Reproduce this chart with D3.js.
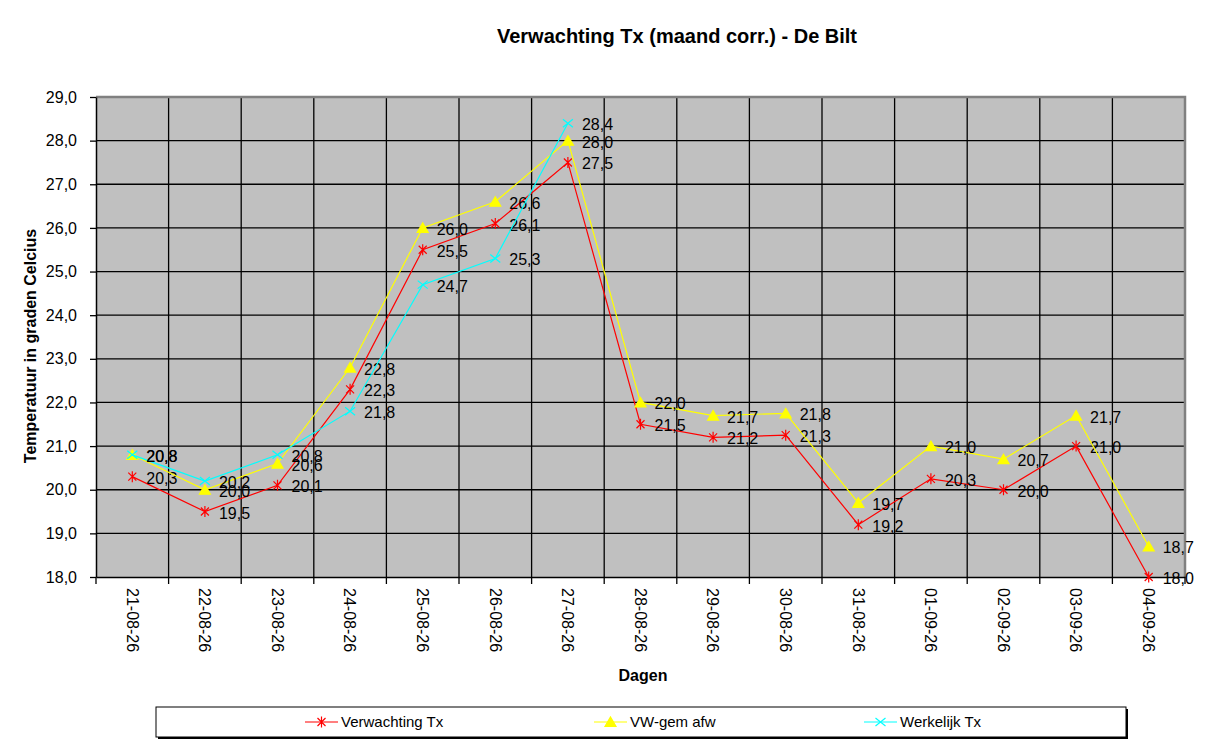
<!DOCTYPE html>
<html>
<head>
<meta charset="utf-8">
<script src="https://cdn.jsdelivr.net/npm/d3@7"></script>
<style>
  body { margin: 0; background: #fff; }
  text { font-family: Arial, 'Liberation Sans', sans-serif; }
</style>
</head>
<body>
<div id="wrapper"></div>
<script>
// categories (days) and series values
const days = ['21-08-26', '22-08-26', '23-08-26', '24-08-26', '25-08-26', '26-08-26', '27-08-26',
    '28-08-26', '29-08-26', '30-08-26', '31-08-26', '01-09-26', '02-09-26', '03-09-26', '04-09-26'];
const verwachting = [20.3, 19.5, 20.1, 22.3, 25.5, 26.1, 27.5, 21.5, 21.2, 21.25, 19.2, 20.25, 20.0, 21.0, 18.0];
const vwGem = [20.8, 20.0, 20.6, 22.8, 26.0, 26.6, 28.0, 22.0, 21.7, 21.75, 19.7, 21.0, 20.7, 21.7, 18.7];
const werkelijk = [20.8, 20.2, 20.8, 21.8, 24.7, 25.3, 28.4];
const yTicks = [18, 19, 20, 21, 22, 23, 24, 25, 26, 27, 28, 29];

const dimensions = {
    width: 1220,
    height: 746,
    margin: { top: 97, right: 35, bottom: 169, left: 96 }
};
dimensions.boundedWidth = dimensions.width - dimensions.margin.left - dimensions.margin.right;
dimensions.boundedHeight = dimensions.height - dimensions.margin.top - dimensions.margin.bottom;

const fmt = d => d3.format('.1f')(d).replace('.', ',');

const svg = d3.select('#wrapper')
    .append('svg')
    .attr('width', dimensions.width)
    .attr('height', dimensions.height);

const bounds = svg.append('g')
    .attr('transform', `translate(${dimensions.margin.left},${dimensions.margin.top})`);

const xScale = d3.scaleBand()
    .domain(days)
    .range([0, dimensions.boundedWidth])
    .padding(0);

const yScale = d3.scaleLinear()
    .domain([18, 29])
    .range([dimensions.boundedHeight, 0]);

const xCenter = d => xScale(d) + xScale.bandwidth() / 2;

// plot background
bounds.append('rect')
    .attr('width', dimensions.boundedWidth)
    .attr('height', dimensions.boundedHeight)
    .attr('fill', '#c0c0c0');

// horizontal grid
bounds.append('g')
    .selectAll('line')
    .data(yTicks.slice(1, -1))
    .join('line')
    .attr('x1', 0)
    .attr('x2', dimensions.boundedWidth)
    .attr('y1', d => yScale(d))
    .attr('y2', d => yScale(d))
    .attr('stroke', '#000')
    .attr('stroke-width', 1.3);

// vertical grid at category boundaries
bounds.append('g')
    .selectAll('line')
    .data(days.slice(1))
    .join('line')
    .attr('x1', d => xScale(d))
    .attr('x2', d => xScale(d))
    .attr('y1', 0)
    .attr('y2', dimensions.boundedHeight)
    .attr('stroke', '#000')
    .attr('stroke-width', 1.3);

// grey frame top / right
bounds.append('path')
    .attr('d', `M0,0H${dimensions.boundedWidth}V${dimensions.boundedHeight}`)
    .attr('fill', 'none')
    .attr('stroke', '#808080')
    .attr('stroke-width', 2.5);

// y axis
const yAxis = bounds.append('g')
    .call(d3.axisLeft(yScale)
        .tickValues(yTicks)
        .tickFormat(fmt)
        .tickSize(6)
        .tickSizeOuter(0)
        .tickPadding(13));
yAxis.select('.domain').attr('stroke', '#000').attr('stroke-width', 1.5);
yAxis.selectAll('.tick line').attr('stroke-width', 1.3);
yAxis.selectAll('.tick text')
    .style('font-size', '16px')
    .attr('fill', '#000')
    .attr('font-family', 'Arial, Liberation Sans, sans-serif');

// x axis
const xAxis = bounds.append('g')
    .attr('transform', `translate(0,${dimensions.boundedHeight})`)
    .call(d3.axisBottom(xScale)
        .tickSize(0)
        .tickSizeOuter(0));
xAxis.select('.domain').attr('stroke', '#000').attr('stroke-width', 1.5);
xAxis.selectAll('.tick text')
    .attr('transform', 'rotate(90)')
    .attr('x', 11)
    .attr('y', 0)
    .attr('dy', '0.35em')
    .attr('text-anchor', 'start')
    .attr('fill', '#000')
    .attr('font-family', 'Arial, Liberation Sans, sans-serif')
    .style('font-size', '16px');

// x tick marks at boundaries
xAxis.append('g')
    .selectAll('line')
    .data(days.map(d => xScale(d)).concat([dimensions.boundedWidth]))
    .join('line')
    .attr('x1', d => d)
    .attr('x2', d => d)
    .attr('y1', 0)
    .attr('y2', 7)
    .attr('stroke', '#000')
    .attr('stroke-width', 1.3);

// markers
const markers = {
    star: 'M-4,-4L4,4M-4,4L4,-4M0,-5.5L0,5.5',
    triangle: 'M0,-5L5.5,4.5L-5.5,4.5Z',
    cross: 'M-5,-4L5,4M-5,4L5,-4'
};

const series = [
    { name: 'Verwachting Tx', values: verwachting, color: '#ff0000', marker: 'star', fill: false },
    { name: 'VW-gem afw', values: vwGem, color: '#ffff00', marker: 'triangle', fill: true },
    { name: 'Werkelijk Tx', values: werkelijk, color: '#00ffff', marker: 'cross', fill: false }
];

const lineGenerator = d3.line()
    .x((d, i) => xCenter(days[i]))
    .y(d => yScale(d));

series.forEach(s => {
    const g = bounds.append('g');
    g.append('path')
        .datum(s.values)
        .attr('d', lineGenerator)
        .attr('fill', 'none')
        .attr('stroke', s.color)
        .attr('stroke-width', 1.2);

    g.selectAll('.marker')
        .data(s.values)
        .join('path')
        .attr('class', 'marker')
        .attr('transform', (d, i) => `translate(${xCenter(days[i])},${yScale(d)})`)
        .attr('d', markers[s.marker])
        .attr('fill', s.fill ? s.color : 'none')
        .attr('stroke', s.color)
        .attr('stroke-width', 1.2);

    g.selectAll('.label')
        .data(s.values)
        .join('text')
        .attr('class', 'label')
        .attr('x', (d, i) => xCenter(days[i]) + 14)
        .attr('y', d => yScale(d) + 7)
        .style('font-size', '16px')
        .attr('fill', '#000')
        .text(fmt);
});

// title
svg.append('text')
    .attr('x', 677)
    .attr('y', 43)
    .attr('text-anchor', 'middle')
    .style('font-size', '20px')
    .style('font-weight', 'bold')
    .text('Verwachting Tx (maand corr.) - De Bilt');

// axis titles
svg.append('text')
    .attr('x', 643)
    .attr('y', 681)
    .attr('text-anchor', 'middle')
    .style('font-size', '16px')
    .style('font-weight', 'bold')
    .text('Dagen');

svg.append('text')
    .attr('transform', 'translate(36,346) rotate(-90)')
    .attr('text-anchor', 'middle')
    .style('font-size', '16px')
    .style('font-weight', 'bold')
    .text('Temperatuur in graden Celcius');

// legend
const legend = svg.append('g');
legend.append('rect')
    .attr('x', 158)
    .attr('y', 709)
    .attr('width', 970)
    .attr('height', 30)
    .attr('fill', '#000');
legend.append('rect')
    .attr('x', 156)
    .attr('y', 707)
    .attr('width', 970)
    .attr('height', 30)
    .attr('fill', '#fff')
    .attr('stroke', '#000')
    .attr('stroke-width', 1);

const legendX = [305, 594, 864];
series.forEach((s, i) => {
    const item = legend.append('g')
        .attr('transform', `translate(${legendX[i]},722)`);
    item.append('line')
        .attr('x1', 0)
        .attr('x2', 33)
        .attr('stroke', s.color)
        .attr('stroke-width', 1.2);
    item.append('path')
        .attr('transform', 'translate(16.5,0)')
        .attr('d', markers[s.marker])
        .attr('fill', s.fill ? s.color : 'none')
        .attr('stroke', s.color)
        .attr('stroke-width', 1.2);
    item.append('text')
        .attr('x', 36)
        .attr('y', 5)
        .style('font-size', '15px')
        .attr('fill', '#000')
        .text(s.name);
});
</script>
</body>
</html>
